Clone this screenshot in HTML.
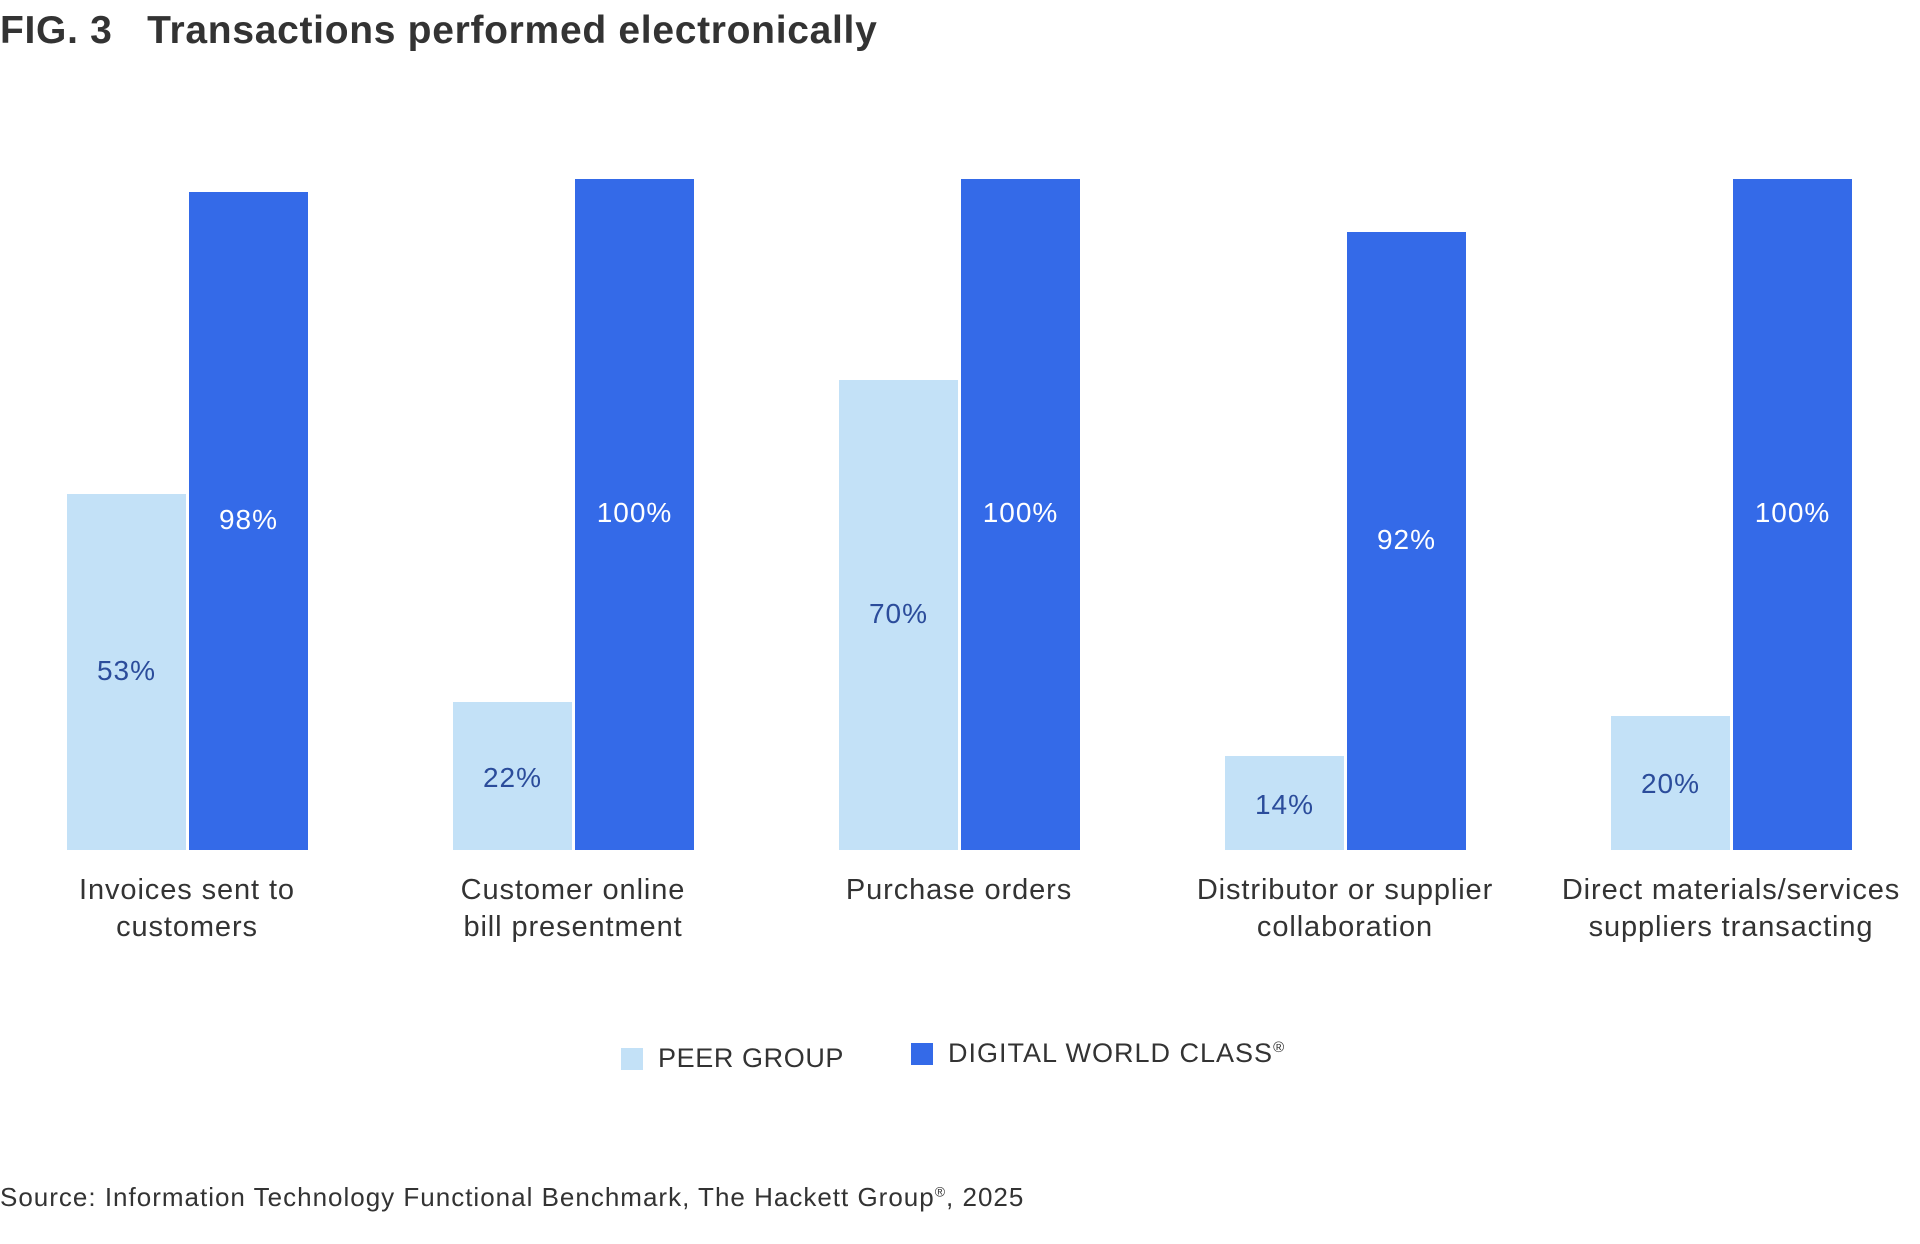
<!DOCTYPE html>
<html><head><meta charset="utf-8"><style>
body{margin:0;width:1920px;height:1244px;background:#fff;font-family:"Liberation Sans",sans-serif;color:#333;position:relative;overflow:hidden}
.a{position:absolute}
.b{position:absolute;width:119px}
.p{background:#c3e1f7}
.d{background:#346ae8}
.v{position:absolute;width:119px;text-align:center;font-size:28px;letter-spacing:1px;transform:translateY(-50%)}
.c{position:absolute;width:420px;text-align:center;font-size:29px;letter-spacing:0.9px;line-height:37px;top:872px;color:#333}
</style></head><body>
<div class="a" style="left:0;top:9px;font-size:39px;letter-spacing:0.7px;font-weight:bold;color:#333">FIG. 3&nbsp;&nbsp; Transactions performed electronically</div>

<div class="b p" style="left:67px;top:494px;height:356px"></div>
<div class="b d" style="left:189px;top:192px;height:658px"></div>
<div class="v" style="left:67px;top:671px;color:#2b4c9b">53%</div>
<div class="v" style="left:189px;top:520px;color:#fff">98%</div>

<div class="b p" style="left:453px;top:702px;height:148px"></div>
<div class="b d" style="left:575px;top:179px;height:671px"></div>
<div class="v" style="left:453px;top:778px;color:#2b4c9b">22%</div>
<div class="v" style="left:575px;top:513px;color:#fff">100%</div>

<div class="b p" style="left:839px;top:380px;height:470px"></div>
<div class="b d" style="left:961px;top:179px;height:671px"></div>
<div class="v" style="left:839px;top:614px;color:#2b4c9b">70%</div>
<div class="v" style="left:961px;top:513px;color:#fff">100%</div>

<div class="b p" style="left:1225px;top:756px;height:94px"></div>
<div class="b d" style="left:1347px;top:232px;height:618px"></div>
<div class="v" style="left:1225px;top:805px;color:#2b4c9b">14%</div>
<div class="v" style="left:1347px;top:540px;color:#fff">92%</div>

<div class="b p" style="left:1611px;top:716px;height:134px"></div>
<div class="b d" style="left:1733px;top:179px;height:671px"></div>
<div class="v" style="left:1611px;top:784px;color:#2b4c9b">20%</div>
<div class="v" style="left:1733px;top:513px;color:#fff">100%</div>

<div class="c" style="left:-23px">Invoices sent to<br>customers</div>
<div class="c" style="left:363px">Customer online<br>bill presentment</div>
<div class="c" style="left:749px">Purchase orders</div>
<div class="c" style="left:1135px">Distributor or supplier<br>collaboration</div>
<div class="c" style="left:1521px">Direct materials/services<br>suppliers transacting</div>

<div class="a p" style="left:621px;top:1048px;width:22px;height:22px"></div>
<div class="a" style="left:658px;top:1043px;font-size:27px;letter-spacing:0.6px">PEER GROUP</div>
<div class="a d" style="left:911px;top:1043px;width:22px;height:22px"></div>
<div class="a" style="left:948px;top:1038px;font-size:27px;letter-spacing:1px">DIGITAL WORLD CLASS<sup style="font-size:15px">®</sup></div>

<div class="a" style="left:0;top:1182px;font-size:26px;letter-spacing:1px">Source: Information Technology Functional Benchmark, The Hackett Group<sup style="font-size:14px">®</sup>, 2025</div>
</body></html>
